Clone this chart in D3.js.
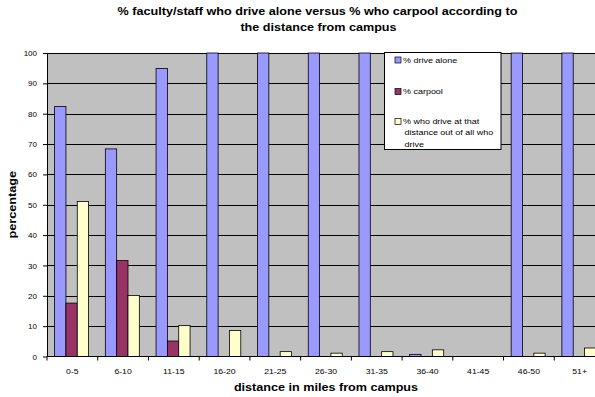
<!DOCTYPE html>
<html>
<head>
<meta charset="utf-8">
<script src="https://cdn.jsdelivr.net/npm/d3@7/dist/d3.min.js"></script>
<style>
  html, body { margin: 0; padding: 0; background: #fff; }
  svg { display: block; font-family: "Liberation Sans", Arial, sans-serif; }
</style>
</head>
<body>
<svg id="chart" width="595" height="397"></svg>
<script>
const categories = ["0-5", "6-10", "11-15", "16-20", "21-25", "26-30", "31-35", "36-40", "41-45", "46-50", "51+"];
const driveAlone = [82.4, 68.4, 94.9, 100, 100, 100, 100, 0.7, 0, 100, 100];
const carpool    = [17.6, 31.6, 5.1, 0, 0, 0, 0, 0, 0, 0, 0];
const shareOfDrivers = [51.1, 20.1, 10.2, 8.6, 1.6, 1.1, 1.6, 2.2, 0, 1.1, 2.8];
const seriesNames = ["% drive alone", "% carpool", "% who drive at that distance out of all who drive"];
const seriesColors = ["#9999FF", "#993366", "#FFFFCC"];
const yTicks = [0, 10, 20, 30, 40, 50, 60, 70, 80, 90, 100];

const svg = d3.select("#chart");
const plot = { left: 47, right: 605, top: 53, bottom: 356.5 };

// Widen text horizontally to a given factor of its natural width
function stretch(sel, factor) {
  sel.each(function () {
    const w = this.getComputedTextLength();
    d3.select(this).attr("textLength", w * factor).attr("lengthAdjust", "spacingAndGlyphs");
  });
}

const x = d3.scaleBand().domain(categories).range([plot.left, plot.right]).paddingInner(0).paddingOuter(0);
const y = d3.scaleLinear().domain([0, 100]).range([plot.bottom, plot.top]);
const seriesKeys = [0, 1, 2];
const xInner = d3.scaleBand().domain(seriesKeys).range([x.bandwidth() * 0.15, x.bandwidth() * 0.82]);

const seriesData = [driveAlone, carpool, shareOfDrivers];

// Plot background
svg.append("rect")
  .attr("x", plot.left).attr("y", plot.top)
  .attr("width", plot.right - plot.left).attr("height", plot.bottom - plot.top)
  .attr("fill", "#C0C0C0");

// Horizontal gridlines
svg.append("g").selectAll("line").data(yTicks.filter(d => d > 0)).join("line")
  .attr("x1", plot.left).attr("x2", plot.right)
  .attr("y1", d => Math.round(y(d)) + 0.5).attr("y2", d => Math.round(y(d)) + 0.5)
  .attr("stroke", "#000").attr("stroke-width", 1);

// Bars
const groups = svg.append("g").selectAll("g").data(categories).join("g")
  .attr("transform", d => `translate(${x(d)},0)`);
groups.selectAll("rect")
  .data((c, i) => seriesKeys.map(k => ({ k, v: seriesData[k][i] })))
  .join("rect")
  .filter(d => d.v > 0)
  .attr("x", d => xInner(d.k))
  .attr("width", xInner.bandwidth())
  .attr("y", d => y(d.v))
  .attr("height", d => plot.bottom - y(d.v))
  .attr("fill", d => seriesColors[d.k])
  .attr("stroke", "#000").attr("stroke-width", 0.8);

// Y axis
const yAxis = svg.append("g")
  .attr("transform", `translate(${plot.left},0)`)
  .call(d3.axisLeft(y).tickValues(yTicks).tickSize(4).tickPadding(6).tickSizeOuter(0));
yAxis.select(".domain").attr("stroke", "#000");
yAxis.selectAll("text").attr("font-size", "8px").attr("fill", "#000")
  .attr("font-family", "Liberation Sans, Arial, sans-serif");

// X axis with ticks between categories
const xAxisG = svg.append("g");
xAxisG.append("line")
  .attr("x1", plot.left).attr("x2", plot.right)
  .attr("y1", plot.bottom).attr("y2", plot.bottom)
  .attr("stroke", "#000");
xAxisG.selectAll("line.sep").data(categories.concat(["end"])).join("line")
  .attr("class", "sep")
  .attr("x1", (d, i) => plot.left + i * x.bandwidth())
  .attr("x2", (d, i) => plot.left + i * x.bandwidth())
  .attr("y1", plot.bottom).attr("y2", plot.bottom + 4)
  .attr("stroke", "#000");
xAxisG.selectAll("text").data(categories).join("text")
  .attr("x", d => x(d) + x.bandwidth() / 2)
  .attr("y", plot.bottom + 17)
  .attr("text-anchor", "middle")
  .attr("font-size", "8px")
  .text(d => d)
  .call(stretch, 1.08);

// Titles
svg.append("text").attr("text-anchor", "middle")
  .attr("x", 317.5).attr("y", 15)
  .attr("font-size", "10px").attr("font-weight", "bold")
  .text("% faculty/staff who drive alone versus % who carpool according to")
  .call(stretch, 1.26);
svg.append("text").attr("text-anchor", "middle")
  .attr("x", 318.5).attr("y", 30.5)
  .attr("font-size", "10px").attr("font-weight", "bold")
  .text("the distance from campus")
  .call(stretch, 1.26);

svg.append("text")
  .attr("x", (plot.left + plot.right) / 2).attr("y", 391)
  .attr("text-anchor", "middle")
  .attr("font-size", "10px").attr("font-weight", "bold")
  .text("distance in miles from campus")
  .call(stretch, 1.26);

svg.append("text")
  .attr("transform", `translate(16,${(plot.top + plot.bottom) / 2}) rotate(-90)`)
  .attr("text-anchor", "middle")
  .attr("font-size", "10px").attr("font-weight", "bold")
  .text("percentage")
  .call(stretch, 1.27);

// Legend
const legend = svg.append("g").attr("transform", "translate(384.5,52.5)");
legend.append("rect")
  .attr("width", 116.5).attr("height", 97)
  .attr("fill", "#fff").attr("stroke", "#000").attr("stroke-width", 1);
const legendLines = [["% drive alone"], ["% carpool"], ["% who drive at that", "distance out of all who", "drive"]];
const legendY = [10, 41.5, 71.5];
legendLines.forEach((lines, i) => {
  legend.append("rect")
    .attr("x", 10.5).attr("y", legendY[i] - 5.5).attr("width", 6).attr("height", 6)
    .attr("fill", seriesColors[i]).attr("stroke", "#000").attr("stroke-width", 0.7);
  lines.forEach((ln, j) => {
    legend.append("text").attr("font-size", "8px")
      .attr("x", j === 0 ? 18.5 : 20).attr("y", legendY[i] + j * 11.3)
      .text(ln)
      .call(stretch, 1.12);
  });
});
</script>
</body>
</html>
